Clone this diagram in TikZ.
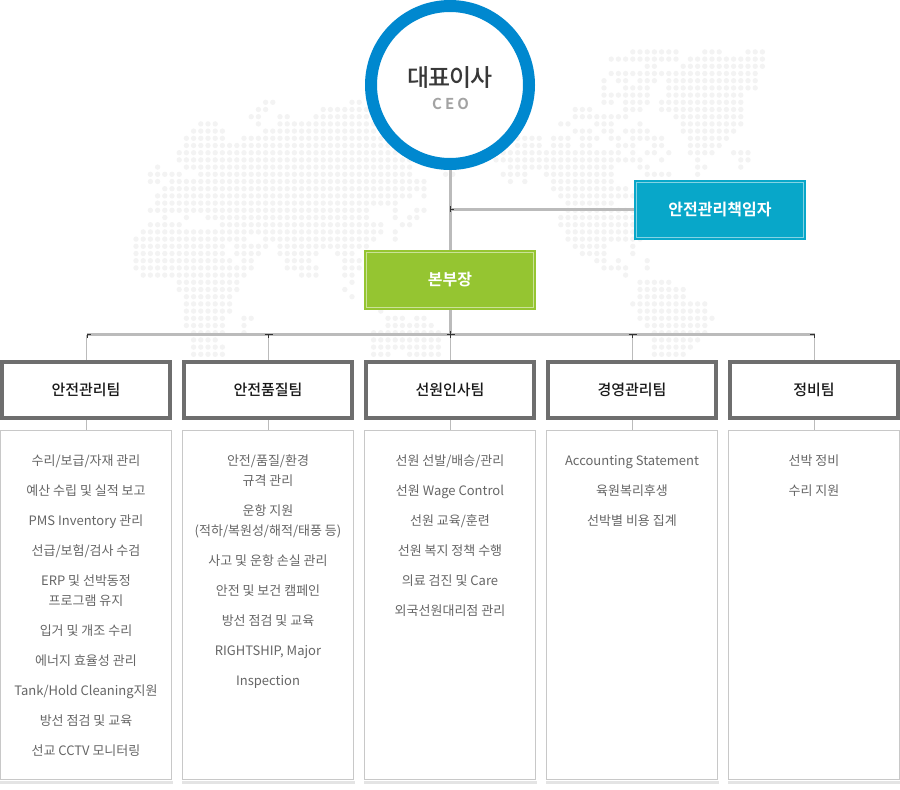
\documentclass[tikz,border=0pt]{standalone}
\usepackage{fontspec}
\setmainfont[BoldFont={Noto Sans CJK KR Medium}]{Noto Sans CJK KR}
\newfontfamily\heavyfont{Noto Sans CJK KR Bold}
\usetikzlibrary{calc}

\definecolor{ceoblue}{HTML}{0088CF}
\definecolor{safetyblue}{HTML}{08A7C9}
\definecolor{safetyedge}{HTML}{83D3E4}
\definecolor{hqgreen}{HTML}{95C531}
\definecolor{hqedge}{HTML}{CAE298}
\definecolor{linkgray}{HTML}{BBBBBB}
\definecolor{teamgray}{HTML}{6E6E6E}
\definecolor{listgray}{HTML}{C8C8C8}
\definecolor{shadegray}{HTML}{E4E4E4}
\definecolor{dotgray}{HTML}{F3F3F3}

\tikzset{
	panel/.style={minimum width=170, minimum height=58, line width=2, inner sep=0, text=white, font=\fontsize{16}{20}\selectfont\heavyfont},
	teambox/.style={draw=teamgray, fill=white, line width=4, minimum width=168, minimum height=56, inner sep=0, font=\fontsize{15}{20}\selectfont\bfseries, text=black!90},
	listbox/.style={draw=listgray, fill=white, line width=1, minimum width=171, minimum height=349, inner sep=0},
	listtext/.style={anchor=north, align=center, inner sep=0, text=black!60, font=\fontsize{13}{20}\selectfont},
	mainlink/.style={linkgray, line width=3},
	thinlink/.style={linkgray, line width=1},
	tickmark/.style={black!80, line width=0.8},
}

\begin{document}
\begin{tikzpicture}[x=1pt, y=-1pt]
	\useasboundingbox (0, 0) rectangle (900, 790);

	% world map dots: row / first column / last column
	\foreach \r/\a/\b in {
		-7/69/75, -7/79/81, -7/85/87, -6/66/75, -6/77/87, -5/71/72, -5/76/87, -4/66/86,
		-3/65/65, -3/67/68, -3/70/72, -3/74/86, -2/65/65, -2/68/71, -2/74/86, -1/65/71, -1/74/84,
		0/18/19, 0/30/31, 0/65/66, 0/68/71, 0/73/84,
		1/17/18, 1/26/32, 1/61/63, 1/68/70, 1/73/84,
		2/16/17, 2/20/21, 2/25/32, 2/61/68, 2/75/84,
		3/9/11, 3/17/17, 3/20/33, 3/59/60, 3/64/66, 3/70/70, 3/76/84,
		4/8/12, 4/18/33, 4/61/63, 4/65/66, 4/68/71, 4/76/83,
		5/7/12, 5/15/34, 5/53/56, 5/58/60, 5/62/64, 5/66/67, 5/69/73, 5/77/82,
		6/7/40, 6/53/56, 6/58/60, 6/62/63, 6/67/69, 6/72/73, 6/77/81,
		7/6/40, 7/51/67, 7/69/69, 7/71/72, 7/74/74, 7/77/80, 7/83/85,
		8/6/40, 8/50/70, 8/73/73, 8/78/78, 8/84/85,
		9/3/3, 9/7/38, 9/52/66, 9/70/71, 9/78/79, 9/84/84,
		10/2/6, 10/9/38, 10/43/44, 10/51/54, 10/57/66, 10/71/74, 10/78/78,
		11/2/3, 11/5/40, 11/52/52, 11/54/54, 11/58/66,
		12/4/40, 12/58/68,
		13/3/38, 13/40/40, 13/59/69,
		14/3/36, 14/60/66,
		15/2/32, 15/36/36, 15/39/40, 15/60/69,
		16/4/4, 16/7/7, 16/10/32, 16/36/36, 16/38/39, 16/59/69,
		17/2/6, 17/12/34, 17/37/38, 17/59/69,
		18/1/34, 18/36/36, 18/60/69,
		19/0/15, 19/18/33, 19/36/36, 19/60/70,
		20/0/12, 20/14/18, 20/20/32, 20/61/65, 20/69/69,
		21/0/12, 21/14/17, 21/20/25, 21/28/30, 21/62/65, 21/69/69,
		22/0/13, 22/15/16, 22/21/24, 22/29/31, 22/64/65, 22/67/67, 22/71/71,
		23/0/16, 23/21/25, 23/29/31, 23/65/68, 23/71/71,
		24/1/15, 24/23/25, 24/29/30, 24/68/68,
		25/6/14, 25/30/30, 25/70/74,
		26/6/14, 26/29/29, 26/70/76,
		27/7/13, 27/30/30, 27/70/76,
		28/7/13, 28/69/79,
		29/7/13, 29/34/34, 29/70/79,
		30/7/12, 30/15/16, 30/35/37, 30/39/40, 30/70/80,
		31/7/12, 31/15/15, 31/35/41, 31/71/79,
		32/8/12, 32/15/15, 32/33/42, 32/72/79,
		33/8/11, 33/33/42, 33/72/78,
		34/8/12, 34/33/42, 34/72/77,
		35/8/12, 35/33/35, 35/38/42, 35/72/76}
		\foreach \c in {\a, ..., \b}
			\fill[dotgray] ({136 + 7.2 * \c}, {102.3 + 7.2 * \r}) circle [radius=2.7];

	% top of the chart
	\node[circle, draw=ceoblue, fill=white, line width=12, minimum size=158, inner sep=0] (ceo) at (450, 85) {};
	\node[text=black!78, font=\fontsize{24}{28}\selectfont\bfseries\addfontfeature{LetterSpace=-4}] (ceotitle) at (450, 78) {대표이사};
	\node[text=black!36, font=\fontsize{15}{16}\selectfont\heavyfont\addfontfeature{LetterSpace=20}] (ceosub) at (450.5, 104) {CEO};

	\node[panel, draw=safetyblue, fill=safetyblue] (safety) at (720, 210) {안전관리책임자};
	\node[panel, draw=hqgreen, fill=hqgreen] (hq) at (450, 280) {본부장};
	\draw[safetyedge, line width=1] ($(safety.north west) + (2.5, 2.5)$) rectangle ($(safety.south east) - (2.5, 2.5)$);
	\draw[hqedge, line width=1] ($(hq.north west) + (2.5, 2.5)$) rectangle ($(hq.south east) - (2.5, 2.5)$);

	\coordinate (safetyjoint) at (450, 209);
	\coordinate (busjoint) at (450, 334.5);
	\coordinate (busa) at (86.5, 334.5);
	\coordinate (buse) at (814.5, 334.5);

	\draw[mainlink] (ceo) -- (hq);
	\draw[mainlink] (safetyjoint) -- (safety.west |- safetyjoint);
	\draw[mainlink] (hq) -- (busjoint);
	\draw[mainlink] (busa) -- (buse);

	% teams with their task lists
	\foreach \n/\cx/\title in {a/86/안전관리팀, b/268/안전품질팀, c/450/선원인사팀, d/632/경영관리팀, e/814/정비팀} {
		\node[teambox] (team\n) at (\cx, 390) {\title};
		\node[listbox] (list\n) at (\cx, 605) {};
		\coordinate (joint\n) at (\cx + 0.5, 334.5);
		\draw[thinlink] (joint\n) -- (joint\n |- team\n.north);
		\draw[thinlink] (joint\n |- team\n.south) -- (joint\n |- list\n.north);
		\fill[shadegray] ($(list\n.south west) + (-0.5, 0.5)$) rectangle ($(list\n.south east) + (0.5, 4)$);
	}

	\node[listtext] (texta) at (86, 455) {수리/보급/자재 관리\\[10pt]예산 수립 및 실적 보고\\[10pt]PMS Inventory 관리\\[10pt]선급/보험/검사 수검\\[10pt]ERP 및 선박동정\\프로그램 유지\\[10pt]입거 및 개조 수리\\[10pt]에너지 효율성 관리\\[10pt]Tank/Hold Cleaning지원\\[10pt]방선 점검 및 교육\\[10pt]선교 CCTV 모니터링};
	\node[listtext] (textb) at (268, 455) {안전/품질/환경\\규격 관리\\[10pt]운항 지원\\(적하/복원성/해적/태풍 등)\\[10pt]사고 및 운항 손실 관리\\[10pt]안전 및 보건 캠페인\\[10pt]방선 점검 및 교육\\[10pt]RIGHTSHIP, Major\\[10pt]Inspection};
	\node[listtext] (textc) at (450, 455) {선원 선발/배승/관리\\[10pt]선원 Wage Control\\[10pt]선원 교육/훈련\\[10pt]선원 복지 정책 수행\\[10pt]의료 검진 및 Care\\[10pt]외국선원대리점 관리};
	\node[listtext] (textd) at (632, 455) {Accounting Statement\\[10pt]육원복리후생\\[10pt]선박별 비용 집계};
	\node[listtext] (texte) at (814, 455) {선박 정비\\[10pt]수리 지원};

	% small junction marks
	\draw[tickmark] (450, 206) -- (450, 212) (450, 209) -- (454, 209);
	\draw[tickmark] (87, 338) -- (87, 334) -- (91, 334);
	\draw[tickmark] (264.5, 334) -- (272.5, 334) (268.5, 334) -- (268.5, 338);
	\draw[tickmark] (446.5, 334.5) -- (454.5, 334.5) (450.5, 331) -- (450.5, 338);
	\draw[tickmark] (628.5, 334) -- (636.5, 334) (632.5, 334) -- (632.5, 338);
	\draw[tickmark] (810, 334) -- (814.5, 334) -- (814.5, 338);
\end{tikzpicture}
\end{document}
